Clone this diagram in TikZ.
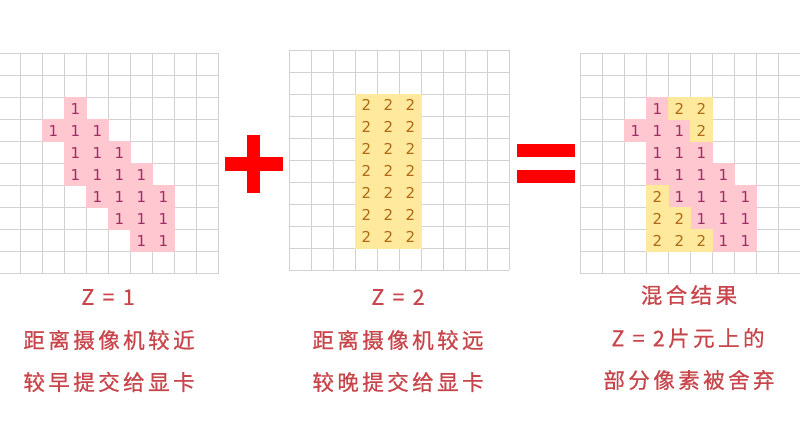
\documentclass[tikz,border=0pt]{standalone}
\usepackage{fontspec}
\setmainfont{Noto Sans CJK SC}
\newfontfamily\cjk[LetterSpace=16, FakeBold=0.7]{Noto Sans CJK SC}
\newfontfamily\numfont{DejaVu Sans}
\definecolor{gridgray}{HTML}{D2D2D2}
\definecolor{cellpink}{HTML}{FFC8D0}
\definecolor{cellyellow}{HTML}{FFE99C}
\definecolor{onecol}{HTML}{A02C62}
\definecolor{twocol}{HTML}{B06A18}
\definecolor{labelred}{HTML}{C8464B}
\tikzset{
  gridline/.style={draw=gridgray, line width=1.2pt},
  cellbase/.style={minimum size=23pt, inner sep=0pt, outer sep=0pt, font=\numfont\fontsize{15}{15}\selectfont},
  pinkcell/.style={cellbase, fill=cellpink, text=onecol},
  yellowcell/.style={cellbase, fill=cellyellow, text=twocol},
  captxt/.style={text=labelred, font=\cjk\fontsize{21.5}{21.5}\selectfont, inner sep=0pt},
}
\begin{document}
\begin{tikzpicture}[x=1pt, y=-1pt]
\useasboundingbox (0,0) rectangle (800,440);
% grids
\foreach \gx/\gy in {-1.5/53.6, 289.3/50.3, 580.3/53.6}{
  \foreach \k in {0,...,10}{
    \draw[gridline] ({\gx+22*\k},\gy) -- ({\gx+22*\k},{\gy+220});
    \draw[gridline] (\gx,{\gy+22*\k}) -- ({\gx+220},{\gy+22*\k});
  }
}
% left grid cells (Z=1)
\foreach \r/\c in {2/3, 3/2,3/3,3/4, 4/3,4/4,4/5, 5/3,5/4,5/5,5/6, 6/4,6/5,6/6,6/7, 7/5,7/6,7/7, 8/6,8/7}{
  \node[pinkcell] (L-\r-\c) at ({-1.5+22*\c+11},{53.6+22*\r+11}) {1};
}
% middle grid cells (Z=2)
\foreach \r in {2,...,8}{
  \foreach \c in {3,4,5}{
    \node[yellowcell] (M-\r-\c) at ({289.3+22*\c+11},{50.3+22*\r+11}) {2};
  }
}
% right grid cells (result)
\foreach \r/\c in {2/3, 3/2,3/3,3/4, 4/3,4/4,4/5, 5/3,5/4,5/5,5/6, 6/4,6/5,6/6,6/7, 7/5,7/6,7/7, 8/6,8/7}{
  \node[pinkcell] (R-\r-\c) at ({580.3+22*\c+11},{53.6+22*\r+11}) {1};
}
\foreach \r/\c in {2/4,2/5, 3/5, 6/3, 7/3,7/4, 8/3,8/4,8/5}{
  \node[yellowcell] (R-\r-\c) at ({580.3+22*\c+11},{53.6+22*\r+11}) {2};
}
% plus sign
\fill[red] (225,157.3) rectangle (283.3,170.7);
\fill[red] (247.3,135) rectangle (260.3,192.7);
% equals sign
\fill[red] (517,144) rectangle (575,156.7);
\fill[red] (517,170) rectangle (575,182.7);
% captions
\node[captxt] (lz) at (108,297) {Z = 1};
\node[captxt] (l2) at (109,340) {距离摄像机较近};
\node[captxt] (l3) at (109,382) {较早提交给显卡};
\node[captxt] (mz) at (398,297) {Z = 2};
\node[captxt] (m2) at (398,340) {距离摄像机较远};
\node[captxt] (m3) at (398,382) {较晚提交给显卡};
\node[captxt] (rz) at (689,295) {混合结果};
\node[captxt] (r2) at (688,338) {Z = 2片元上的};
\node[captxt] (r3) at (689,380) {部分像素被舍弃};
\end{tikzpicture}
\end{document}
